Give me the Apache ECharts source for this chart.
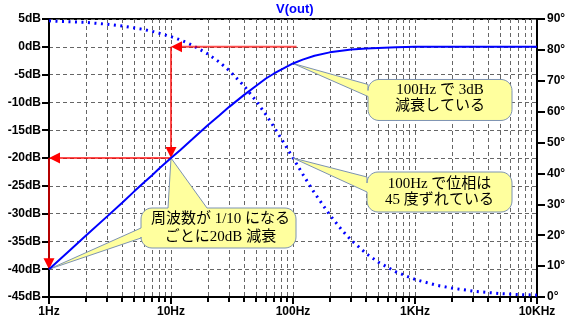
<!DOCTYPE html>
<html>
<head>
<meta charset="utf-8">
<script src="https://cdn.jsdelivr.net/npm/echarts@6/dist/echarts.min.js"></script>
<style>
  html, body { margin: 0; padding: 0; background: #fff; }
  #chart { width: 576px; height: 326px; }
</style>
</head>
<body>
<div id="chart"></div>
<script>
// Frequency sweep points (Hz)
const freqs = [1, 1.5, 2, 3, 4, 5, 6, 7, 8, 10, 12, 15, 20, 25, 30, 40, 50, 60, 70, 80,
  100, 120, 150, 200, 250, 300, 400, 500, 700, 1000, 1500, 2000, 3000, 5000, 7000, 10000];
// V(out) gain, dB
const gainDb = [-40.0, -36.5, -34.0, -30.5, -28.0, -26.0, -24.4, -23.1, -21.9, -20.0,
  -18.5, -16.6, -14.1, -12.3, -10.8, -8.6, -7.0, -5.7, -4.8, -4.1,
  -3.0, -2.3, -1.6, -1.0, -0.7, -0.5, -0.3, -0.2, -0.1, 0, 0, 0, 0, 0, 0, 0];
// V(out) phase, degrees
const phaseDeg = [89.4, 89.1, 88.9, 88.3, 87.7, 87.1, 86.6, 86.0, 85.4, 84.3,
  83.2, 81.5, 78.7, 76.0, 73.3, 68.2, 63.4, 59.0, 55.0, 51.3,
  45.0, 39.8, 33.7, 26.6, 21.8, 18.4, 14.0, 11.3, 8.1, 5.7, 3.8, 2.9, 1.9, 1.1, 0.8, 0.6];

// Axis tick labels
const freqTicks = [1, 10, 100, 1000, 10000];
const freqTickLabels = ['1Hz', '10Hz', '100Hz', '1KHz', '10KHz'];

// Red guide arrows: [fromHz, fromDb, toHz, toDb]
const guideArrows = [
  [107, 0, 10, 0],
  [10, 0, 10, -20],
  [10, -20, 1, -20],
  [1, -20, 1, -40]
];

// Callout anchors and texts
const noteGainTip = [100, -3];           // Hz, dB
const noteGainText = ['100Hz で 3dB', '減衰している'];
const notePhaseTip = [100, 45];          // Hz, degrees
const notePhaseText = ['100Hz で位相は', '45 度ずれている'];
const noteSlopeTips = [10, -20, 1, -40]; // Hz, dB, Hz, dB
const noteSlopeText = ['周波数が 1/10 になる', 'ごとに20dB 減衰'];

// Log grid: 2..9 within every decade, plus the inner decades
const freqGrid = [];
for (let d = 1; d <= 1000; d *= 10) {
  for (let m = 1; m <= 9; m++) {
    const f = d * m;
    if (f > 1) freqGrid.push([f, -45]);
  }
}

const AXIS_FONT = '"Liberation Sans", Arial, sans-serif';
const NOTE_FONT = '15px "Liberation Serif", "Noto Sans CJK JP", serif';
const GRID_COLOR = '#666666';

function isDecade(f) {
  const l = Math.log10(f);
  return Math.abs(l - Math.round(l)) < 1e-9;
}

function renderFreqGrid(params, api) {
  const f = api.value(0);
  const top = api.coord([f, 5]);
  const bot = api.coord([f, -45]);
  const x = Math.round(top[0]) + 0.5;
  const children = [{
    type: 'line',
    shape: { x1: x, y1: top[1], x2: x, y2: bot[1] },
    style: { stroke: GRID_COLOR, lineWidth: 1, lineDash: [4, 3] }
  }];
  if (!isDecade(f)) {
    const xt = Math.round(top[0]);
    children.push({
      type: 'line',
      shape: { x1: xt, y1: bot[1], x2: xt, y2: bot[1] + 5 },
      style: { stroke: '#000', lineWidth: 2 }
    });
  }
  return { type: 'group', children };
}

function renderArrow(params, api) {
  const a = api.coord([api.value(0), api.value(1)]);
  const b = api.coord([api.value(2), api.value(3)]);
  const dx = b[0] - a[0], dy = b[1] - a[1];
  const len = Math.hypot(dx, dy) || 1;
  const ux = dx / len, uy = dy / len;
  const px = -uy, py = ux;
  const headLen = 11, headHalf = 5.5;
  const bx = b[0] - ux * headLen, by = b[1] - uy * headLen;
  return {
    type: 'group',
    children: [
      {
        type: 'line',
        shape: { x1: a[0], y1: a[1], x2: bx + ux * 2, y2: by + uy * 2 },
        style: { stroke: 'rgba(255,0,0,0.7)', lineWidth: 2 }
      },
      {
        type: 'polygon',
        shape: { points: [[b[0], b[1]], [bx + px * headHalf, by + py * headHalf], [bx - px * headHalf, by - py * headHalf]] },
        style: { fill: '#ff0000' }
      }
    ]
  };
}

// Rounded box outline with optional pointer wedges on the top and left edges
function calloutOutline(x, y, w, h, r, top, left) {
  const pts = [];
  const arc = (cx, cy, a0, a1) => {
    const n = 8;
    for (let i = 0; i <= n; i++) {
      const t = a0 + (a1 - a0) * i / n;
      pts.push([cx + r * Math.cos(t), cy + r * Math.sin(t)]);
    }
  };
  arc(x + r, y + r, Math.PI, Math.PI * 1.5);
  if (top) {
    pts.push([x + top.a, y], top.tip, [x + top.b, y]);
  }
  arc(x + w - r, y + r, Math.PI * 1.5, Math.PI * 2);
  arc(x + w - r, y + h - r, 0, Math.PI * 0.5);
  arc(x + r, y + h - r, Math.PI * 0.5, Math.PI);
  if (left) {
    pts.push([x, y + left.b], left.tip, [x, y + left.a]);
  }
  return pts;
}

function makeCalloutRenderer(cfg) {
  return function (params, api) {
    const tips = [api.coord([api.value(0), api.value(1)])];
    if (cfg.twoTips) tips.push(api.coord([api.value(2), api.value(3)]));
    const bx = tips[0][0] + cfg.box.dx;
    const by = tips[0][1] + cfg.box.dy;
    const top = cfg.top ? { a: cfg.top.a, b: cfg.top.b, tip: tips[cfg.top.tip] } : null;
    const left = cfg.left ? { a: cfg.left.a, b: cfg.left.b, tip: tips[cfg.left.tip] } : null;
    const pts = calloutOutline(bx, by, cfg.box.w, cfg.box.h, cfg.box.r, top, left);
    const children = [{
      type: 'polygon',
      shape: { points: pts },
      style: { fill: '#ffff9e', stroke: '#7d93b2', lineWidth: 1 }
    }];
    cfg.lines.forEach((t, i) => {
      children.push({
        type: 'text',
        style: {
          text: t,
          x: bx + cfg.box.w / 2 + (cfg.textDx || 0),
          y: by + cfg.lineY[i],
          font: NOTE_FONT,
          fill: '#000',
          textAlign: 'center',
          textVerticalAlign: 'middle',
          verticalAlign: 'middle'
        }
      });
    });
    return { type: 'group', children };
  };
}

const calloutGain = {
  box: { dx: 75, dy: 16, w: 144, h: 41, r: 11 },
  left: { a: 5, b: 17, tip: 0 },
  lines: noteGainText, lineY: [11, 27]
};
const calloutPhase = {
  box: { dx: 74, dy: 14, w: 145, h: 40, r: 11 },
  left: { a: 5, b: 20, tip: 0 },
  lines: notePhaseText, lineY: [12, 28]
};
const calloutSlope = {
  twoTips: true,
  box: { dx: -30, dy: 50, w: 155, h: 40, r: 11 },
  top: { a: 27, b: 66, tip: 0 },
  left: { a: 20, b: 30, tip: 1 },
  lines: noteSlopeText, lineY: [11, 29], textDx: 2
};

const chart = echarts.init(document.getElementById('chart'), null, { renderer: 'canvas' });

const axisLabelStyle = {
  color: '#000',
  fontWeight: 'bold',
  fontSize: 12,
  fontFamily: AXIS_FONT
};

chart.setOption({
  animation: false,
  backgroundColor: '#fff',
  title: {
    text: 'V(out)',
    left: 276,
    top: 3,
    padding: 0,
    textStyle: { color: '#0000ff', fontWeight: 'bold', fontSize: 13, fontFamily: AXIS_FONT }
  },
  grid: {
    left: 49, right: 39, top: 19, bottom: 29,
    show: true, borderColor: '#000', borderWidth: 2,
    containLabel: false,
    outerBoundsMode: 'none'
  },
  xAxis: {
    type: 'log',
    logBase: 10,
    min: 1,
    max: 10000,
    axisLine: { show: true, onZero: false, lineStyle: { color: '#000', width: 2 } },
    axisTick: { show: true, length: 7, lineStyle: { color: '#000', width: 2 } },
    splitLine: { show: false },
    minorTick: { show: false },
    axisLabel: Object.assign({
      margin: 9,
      showMinLabel: true,
      showMaxLabel: true,
      formatter: function (v) {
        const i = freqTicks.findIndex(t => Math.abs(t - v) / t < 1e-6);
        return i >= 0 ? freqTickLabels[i] : '';
      }
    }, axisLabelStyle)
  },
  yAxis: [
    {
      type: 'value',
      min: -45,
      max: 5,
      interval: 5,
      position: 'left',
      axisLine: { show: true, onZero: false, lineStyle: { color: '#000', width: 2 } },
      axisTick: { show: true, length: 7, lineStyle: { color: '#000', width: 2 } },
      splitLine: { show: true, lineStyle: { color: GRID_COLOR, width: 1, type: [4, 3] } },
      axisLabel: Object.assign({
        margin: 8,
        showMinLabel: true,
        showMaxLabel: true,
        formatter: v => v + 'dB'
      }, axisLabelStyle)
    },
    {
      type: 'value',
      min: 0,
      max: 90,
      interval: 10,
      position: 'right',
      axisLine: { show: true, onZero: false, lineStyle: { color: '#000', width: 2 } },
      axisTick: { show: true, length: 8, lineStyle: { color: '#000', width: 2 } },
      splitLine: { show: false },
      axisLabel: Object.assign({
        margin: 10,
        showMinLabel: true,
        showMaxLabel: true,
        formatter: v => v + '°'
      }, axisLabelStyle)
    }
  ],
  series: [
    {
      name: 'freq grid',
      type: 'custom',
      xAxisIndex: 0,
      yAxisIndex: 0,
      z: 1,
      silent: true,
      clip: false,
      encode: { x: 0, y: 1 },
      renderItem: renderFreqGrid,
      data: freqGrid
    },
    {
      name: 'phase',
      type: 'line',
      yAxisIndex: 1,
      z: 2,
      showSymbol: false,
      silent: true,
      lineStyle: { color: '#0000ff', width: 3, type: [2, 4.5], cap: 'butt' },
      data: freqs.map((f, i) => [f, phaseDeg[i]])
    },
    {
      name: 'gain',
      type: 'line',
      yAxisIndex: 0,
      z: 5,
      showSymbol: false,
      silent: true,
      lineStyle: { color: '#0000ff', width: 2 },
      data: freqs.map((f, i) => [f, gainDb[i]])
    },
    {
      name: 'note gain',
      type: 'custom',
      yAxisIndex: 0,
      z: 3,
      silent: true,
      encode: { x: 0, y: 1 },
      renderItem: makeCalloutRenderer(calloutGain),
      data: [noteGainTip]
    },
    {
      name: 'note phase',
      type: 'custom',
      yAxisIndex: 1,
      z: 3,
      silent: true,
      encode: { x: 0, y: 1 },
      renderItem: makeCalloutRenderer(calloutPhase),
      data: [notePhaseTip]
    },
    {
      name: 'note slope',
      type: 'custom',
      yAxisIndex: 0,
      z: 3,
      silent: true,
      encode: { x: [0, 2], y: [1, 3] },
      renderItem: makeCalloutRenderer(calloutSlope),
      data: [noteSlopeTips]
    },
    {
      name: 'guides',
      type: 'custom',
      yAxisIndex: 0,
      z: 4,
      silent: true,
      clip: false,
      encode: { x: [0, 2], y: [1, 3] },
      renderItem: renderArrow,
      data: guideArrows
    }
  ]
});
</script>
</body>
</html>
